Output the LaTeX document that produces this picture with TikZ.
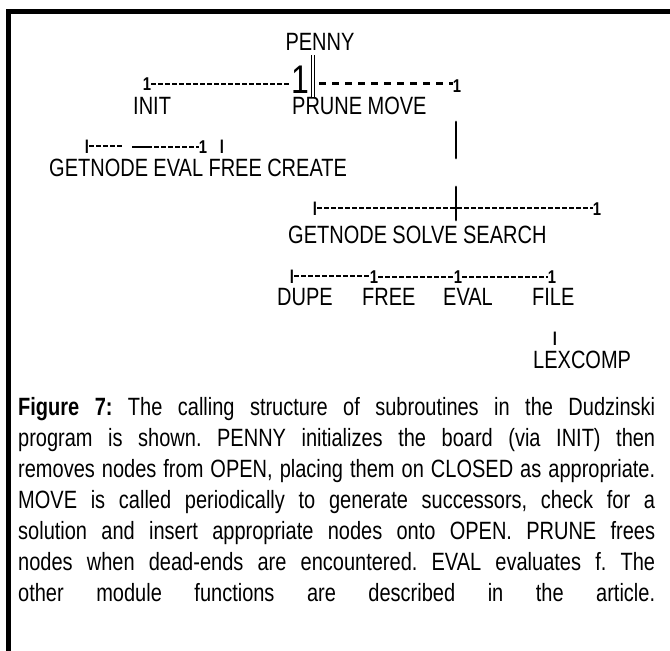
\documentclass[tikz,border=0pt]{standalone}
\usepackage{fontspec}
\setmainfont{Liberation Sans}[FakeStretch=0.8]
\usetikzlibrary{positioning}

\tikzset{
  routine/.style={inner sep=0pt, anchor=base west, font=\fontsize{25}{25}\selectfont},
  callmark/.style={inner sep=0pt, anchor=base, font=\bfseries\fontsize{18.5}{18.5}\selectfont},
  calls/.style={line width=1.8pt, dash pattern=on 5pt off 2pt},
  bigcalls/.style={line width=3pt, dash pattern=on 7pt off 6pt},
  stem/.style={line width=2.8pt, line cap=round},
  caption/.style={inner sep=0pt, anchor=north west, text width=637pt, align=justify,
    font=\fontsize{25}{31}\selectfont},
}

\begin{document}
\begin{tikzpicture}[x=1pt,y=-1pt]
  \useasboundingbox (0,0) rectangle (670,651);
  % frame of the figure
  \draw[line width=5pt] (670,11) -- (8.5,11) -- (8.5,651);

  % PENNY and its first level
  \node[routine, anchor=base] (penny) at (320,50) {PENNY};
  \node[routine] (init) at (133,114) {INIT};
  \node[routine] (prune) at (292,114) {PRUNE};
  \node[routine, base right=5pt of prune] (move) {MOVE};

  \node[callmark] (tInit) at (147,90) {1};
  \node[inner sep=0pt, anchor=base, font=\fontsize{40}{40}\selectfont] (bigOne) at (300,93) {1};
  \node[callmark] (tMove) at (457,92) {1};
  \coordinate (pennyTop) at (313,55);
  \coordinate (pennyFoot) at (313,97);
  \coordinate (moveFrom) at (319,83);
  \draw[calls] (tInit.east) -- (tInit.east -| bigOne.west);
  \draw[line width=1pt, double distance=1.5pt] (pennyTop) -- (pennyFoot);
  \draw[bigcalls] (moveFrom) -- (moveFrom -| tMove.west);

  % INIT calls
  \node[routine] (getnodeA) at (49,176) {GETNODE};
  \node[routine, base right=5pt of getnodeA] (evalA) {EVAL};
  \node[routine, base right=5pt of evalA] (freeA) {FREE};
  \node[routine, base right=5pt of freeA] (create) {CREATE};

  \node[callmark] (tGetA) at (87,153) {l};
  \node[callmark] (tEvalA) at (203,153) {1};
  \node[callmark] (tFreeA) at (222,153) {l};
  \coordinate (gapL) at (123,147);
  \coordinate (gapR) at (132,147);
  \coordinate (longEnd) at (147,147);
  \draw[calls] (tGetA.east) -- (tGetA.east -| gapL);
  \draw[line width=1.8pt] (gapR) -- (longEnd);
  \draw[calls] (longEnd) -- (longEnd -| tEvalA.west);

  % MOVE down to its calls
  \coordinate (stemA) at (456,122);
  \coordinate (stemB) at (456,158);
  \coordinate (stemC) at (456,187);
  \coordinate (stemD) at (456,220);
  \draw[stem] (stemA) -- (stemB);
  \draw[stem] (stemC) -- (stemD);

  \node[routine] (getnodeB) at (288,243) {GETNODE};
  \node[routine, base right=5pt of getnodeB] (solve) {SOLVE};
  \node[routine, base right=5pt of solve] (search) {SEARCH};

  \node[callmark] (tGetB) at (315,215) {l};
  \node[callmark] (tSearch) at (597,215) {1};
  \draw[calls] (tGetB.east) -- (tGetB.east -| tSearch.west);

  % SEARCH calls
  \node[routine] (dupe) at (277,305) {DUPE};
  \node[routine] (freeB) at (362,305) {FREE};
  \node[routine] (evalB) at (443,305) {EVAL};
  \node[routine] (file) at (532,305) {FILE};

  \node[callmark] (tDupe) at (292,283) {l};
  \node[callmark] (tFreeB) at (374,283) {1};
  \node[callmark] (tEvalB) at (458,283) {1};
  \node[callmark] (tFile) at (552,283) {1};
  \draw[calls] (tDupe.east) -- (tDupe.east -| tFreeB.west);
  \draw[calls] (tFreeB.east) -- (tFreeB.east -| tEvalB.west);
  \draw[calls] (tEvalB.east) -- (tEvalB.east -| tFile.west);

  \node[routine] (lexcomp) at (533,368) {LEXCOMP};
  \node[callmark] (tLex) at (555,345) {l};

  % caption
  \node[caption] (cap) at (18,397) {\frenchspacing
    \textbf{Figure 7:} The calling structure of subroutines in the Dudzinski\linebreak
    program is shown. PENNY initializes the board (via INIT) then\linebreak
    removes nodes from OPEN, placing them on CLOSED as appropriate.\linebreak
    MOVE is called periodically to generate successors, check for a\linebreak
    solution and insert appropriate nodes onto OPEN. PRUNE frees\linebreak
    nodes when dead-ends are encountered. EVAL evaluates f. The\linebreak
    \hbox to 637pt{other\hfill module\hfill functions\hfill are\hfill
      described\hfill in\hfill the\hfill article.}};
\end{tikzpicture}
\end{document}
